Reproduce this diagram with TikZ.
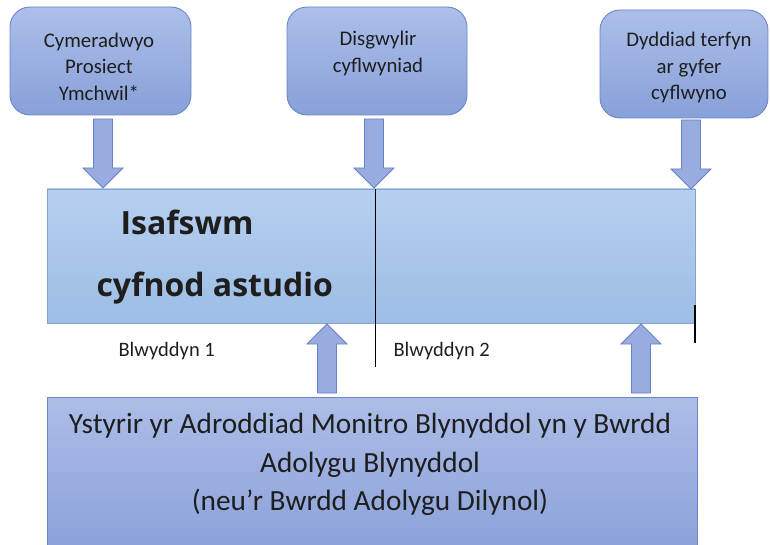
\documentclass[tikz,border=0pt]{standalone}
\usepackage{fontspec}
\setmainfont{Carlito}
\newfontfamily\headfont{Open Sans}
\definecolor{tbTop}{RGB}{172,191,233}
\definecolor{tbBot}{RGB}{136,160,217}
\definecolor{tbEdge}{RGB}{108,133,196}
\definecolor{mTop}{RGB}{182,207,239}
\definecolor{mBot}{RGB}{157,189,229}
\definecolor{mEdge}{RGB}{128,163,214}
\definecolor{bTop}{RGB}{172,189,231}
\definecolor{bBot}{RGB}{138,160,217}
\definecolor{arFill}{RGB}{152,172,223}
\definecolor{arEdge}{RGB}{104,128,196}
\definecolor{ink}{RGB}{30,30,30}
\tikzset{
  eventbox/.style={draw=tbEdge, line width=0.9pt, rounded corners=20pt,
    top color=tbTop, bottom color=tbBot, minimum height=108pt},
  eventtext/.style={align=center, font=\fontsize{20.8}{26.5}\selectfont, text=ink},
  yearlabel/.style={anchor=base west, font=\fontsize{20.5}{24}\selectfont, text=ink},
  headtext/.style={anchor=base west, font=\headfont\bfseries\fontsize{32}{38}\selectfont, text=ink},
  blockarrow/.pic={
    \filldraw[fill=arFill, draw=arEdge, line width=0.8pt, line join=miter]
      (-9.5,-69) -- (9.5,-69) -- (9.5,-20) -- (20,-20) -- (0,0)
      -- (-20,-20) -- (-9.5,-20) -- cycle;
  },
}
\begin{document}
\begin{tikzpicture}[x=1pt, y=-1pt]
\useasboundingbox (0,0) rectangle (770,545);
\clip (0,0) rectangle (770,545);

% milestone boxes along the top
\node[eventbox, minimum width=181pt] (approve) at (100.5,61) {};
\node[eventbox, minimum width=180pt] (expected) at (377,61) {};
\node[eventbox, minimum width=168pt] (deadline) at (684,64) {};
\node[eventtext] (approveTxt) at (99,66.5) {Cymeradwyo\\Prosiect\\Ymchwil*};
\node[eventtext] (expectedTxt) at (378,53.5) {Disgwylir\\cyflwyniad};
\node[eventtext] (deadlineTxt) at (689,67.5) {Dyddiad terfyn\\ar gyfer\\cyflwyno};

% study period bar
\node[draw=mEdge, line width=0.8pt, top color=mTop, bottom color=mBot,
      minimum width=648pt, minimum height=134pt] (period) at (371,256) {};
\node[headtext] (minLbl) at (117,235) {Isafswm};
\node[headtext] (periodLbl) at (93,296) {cyfnod astudio};

% year split and end mark
\coordinate (splitTop) at (375,189);
\coordinate (splitBot) at (375,367);
\coordinate (endTop) at (695,305);
\coordinate (endBot) at (695,343);
\draw[line width=1pt] (splitTop) -- (splitBot);
\draw[line width=1.2pt] (endTop) -- (endBot);
\node[yearlabel] (year1) at (115,356) {Blwyddyn 1};
\node[yearlabel] (year2) at (390,356) {Blwyddyn 2};

% annual review board
\node[draw=tbEdge, line width=0.8pt, top color=bTop, bottom color=bBot,
      minimum width=650pt, minimum height=160pt, anchor=north] (review) at (372,397) {};
\node[align=center, font=\fontsize{29.3}{38.5}\selectfont, text=ink, anchor=north]
  (reviewTxt) at (370,410)
  {Ystyrir yr Adroddiad Monitro Blynyddol yn y Bwrdd\\Adolygu Blynyddol\\(neu’r Bwrdd Adolygu Dilynol)};

% block arrows into and out of the bar
\pic at (103,188) {blockarrow};
\pic at (374,188) {blockarrow};
\pic at (691,189) {blockarrow};
\pic[rotate=180] at (327,324) {blockarrow};
\pic[rotate=180] at (641,324) {blockarrow};
\end{tikzpicture}
\end{document}
